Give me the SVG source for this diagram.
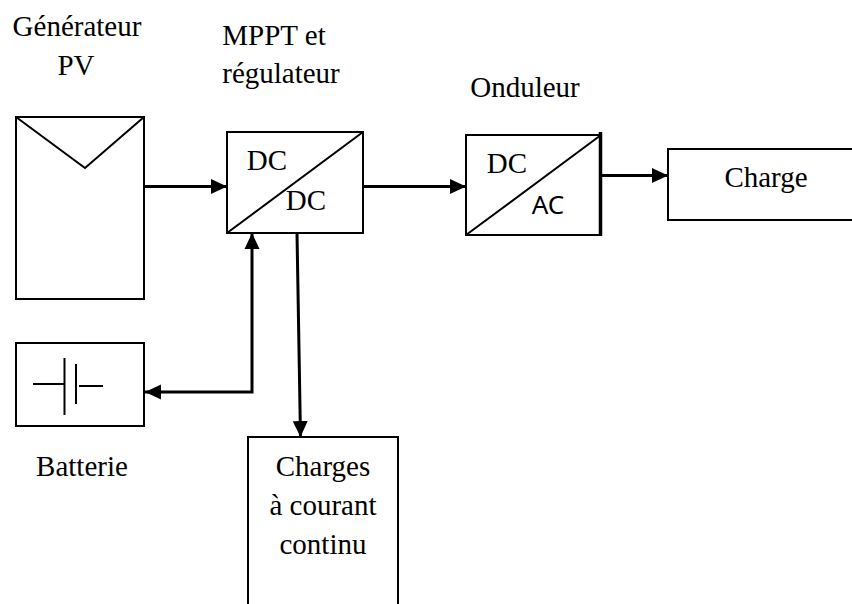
<svg xmlns="http://www.w3.org/2000/svg" width="852" height="604" viewBox="0 0 852 604">
<defs><marker id="a" markerWidth="16" markerHeight="16" refX="16" refY="8" orient="auto-start-reverse" markerUnits="userSpaceOnUse"><path d="M0 0.500L16 8L0 15.500z" fill="#000"/></marker></defs>
<style>
text{font-family:"Liberation Serif",serif;font-size:29px;fill:#000;text-anchor:middle}
.b{fill:#fff;stroke:#000;stroke-width:2}
.l{fill:none;stroke:#000;stroke-width:2}
.c{fill:none;stroke:#000;stroke-width:3}
</style>
<rect width="852" height="604" fill="#fff"/>
<g id="generateur"><rect class="b" x="16" y="117" width="128" height="182"/><path class="l" d="M16 117L85 168L144 117"/><text x="77" y="36">Générateur</text><text x="76" y="75">PV</text></g>
<g id="mppt"><rect class="b" x="227" y="132" width="136" height="101"/><path class="l" d="M227 233L363 132"/><text x="267" y="170">DC</text><text x="306" y="210">DC</text><text x="274" y="45">MPPT et</text><text x="281" y="83">régulateur</text></g>
<g id="onduleur"><rect class="b" x="466" y="135" width="135" height="100"/><path class="l" d="M466 235L601 135"/><path d="M600.500 132V236" stroke="#000" stroke-width="3.500"/><text x="507" y="173">DC</text><text x="548" y="214" style="font-family:'Noto Sans',sans-serif;font-size:26px">AC</text><text x="525" y="97">Onduleur</text></g>
<g id="charge"><path class="b" d="M853 149H668V220H853"/><text x="766" y="187">Charge</text></g>
<g id="batterie"><rect class="b" x="16" y="343" width="128" height="83"/><path class="l" d="M33 384H64M64.500 358V415M76 364V404M79 386H103"/><text x="82" y="476">Batterie</text></g>
<g id="charges"><path class="b" d="M248 605V437H398V605"/><text x="323" y="476">Charges</text><text x="323" y="515">à courant</text><text x="323" y="554">continu</text></g>
<g id="connectors">
<path class="c" marker-end="url(#a)" d="M144 186.500H227"/>
<path class="c" marker-end="url(#a)" d="M363 186.500H466"/>
<path class="c" marker-end="url(#a)" d="M602 175.500H668"/>
<path class="c" marker-start="url(#a)" marker-end="url(#a)" d="M145 392H252V233"/>
<path class="c" marker-end="url(#a)" d="M297 233L300.500 437"/>
</g>
</svg>
